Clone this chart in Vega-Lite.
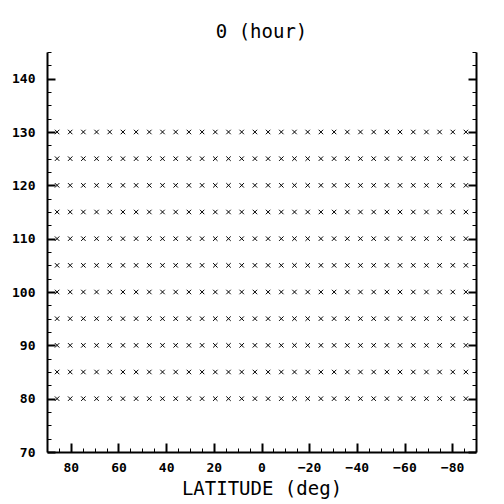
{
  "$schema": "https://vega.github.io/schema/vega-lite/v6.json",
  "autosize": "none",
  "padding": {"left": 47, "top": 52, "right": 28, "bottom": 52},
  "width": 429,
  "height": 400,
  "background": "white",
  "title": {"text": "0 (hour)", "font": "DejaVu Sans Mono", "fontSize": 19, "fontWeight": "normal", "color": "black", "offset": 10, "anchor": "middle"},
  "config": {"view": {"stroke": null}, "axis": {"grid": false, "domainColor": "black", "tickColor": "black", "labelColor": "black", "titleColor": "black", "labelFont": "DejaVu Sans Mono", "labelFontWeight": "bold", "labelFontSize": 13, "titleFont": "DejaVu Sans Mono", "titleFontWeight": "normal", "titleFontSize": 19}},
  "data": {"values": [
{"lat":85.76,"p":80},{"lat":80.27,"p":80},{"lat":74.74,"p":80},{"lat":69.21,"p":80},{"lat":63.68,"p":80},{"lat":58.14,"p":80},{"lat":52.61,"p":80},{"lat":47.07,"p":80},{"lat":41.53,"p":80},{"lat":36.0,"p":80},{"lat":30.46,"p":80},{"lat":24.92,"p":80},{"lat":19.38,"p":80},{"lat":13.84,"p":80},{"lat":8.31,"p":80},{"lat":2.77,"p":80},{"lat":-2.77,"p":80},{"lat":-8.31,"p":80},{"lat":-13.84,"p":80},{"lat":-19.38,"p":80},{"lat":-24.92,"p":80},{"lat":-30.46,"p":80},{"lat":-36.0,"p":80},{"lat":-41.53,"p":80},{"lat":-47.07,"p":80},{"lat":-52.61,"p":80},{"lat":-58.14,"p":80},{"lat":-63.68,"p":80},{"lat":-69.21,"p":80},{"lat":-74.74,"p":80},{"lat":-80.27,"p":80},{"lat":-85.76,"p":80},
{"lat":85.76,"p":85},{"lat":80.27,"p":85},{"lat":74.74,"p":85},{"lat":69.21,"p":85},{"lat":63.68,"p":85},{"lat":58.14,"p":85},{"lat":52.61,"p":85},{"lat":47.07,"p":85},{"lat":41.53,"p":85},{"lat":36.0,"p":85},{"lat":30.46,"p":85},{"lat":24.92,"p":85},{"lat":19.38,"p":85},{"lat":13.84,"p":85},{"lat":8.31,"p":85},{"lat":2.77,"p":85},{"lat":-2.77,"p":85},{"lat":-8.31,"p":85},{"lat":-13.84,"p":85},{"lat":-19.38,"p":85},{"lat":-24.92,"p":85},{"lat":-30.46,"p":85},{"lat":-36.0,"p":85},{"lat":-41.53,"p":85},{"lat":-47.07,"p":85},{"lat":-52.61,"p":85},{"lat":-58.14,"p":85},{"lat":-63.68,"p":85},{"lat":-69.21,"p":85},{"lat":-74.74,"p":85},{"lat":-80.27,"p":85},{"lat":-85.76,"p":85},
{"lat":85.76,"p":90},{"lat":80.27,"p":90},{"lat":74.74,"p":90},{"lat":69.21,"p":90},{"lat":63.68,"p":90},{"lat":58.14,"p":90},{"lat":52.61,"p":90},{"lat":47.07,"p":90},{"lat":41.53,"p":90},{"lat":36.0,"p":90},{"lat":30.46,"p":90},{"lat":24.92,"p":90},{"lat":19.38,"p":90},{"lat":13.84,"p":90},{"lat":8.31,"p":90},{"lat":2.77,"p":90},{"lat":-2.77,"p":90},{"lat":-8.31,"p":90},{"lat":-13.84,"p":90},{"lat":-19.38,"p":90},{"lat":-24.92,"p":90},{"lat":-30.46,"p":90},{"lat":-36.0,"p":90},{"lat":-41.53,"p":90},{"lat":-47.07,"p":90},{"lat":-52.61,"p":90},{"lat":-58.14,"p":90},{"lat":-63.68,"p":90},{"lat":-69.21,"p":90},{"lat":-74.74,"p":90},{"lat":-80.27,"p":90},{"lat":-85.76,"p":90},
{"lat":85.76,"p":95},{"lat":80.27,"p":95},{"lat":74.74,"p":95},{"lat":69.21,"p":95},{"lat":63.68,"p":95},{"lat":58.14,"p":95},{"lat":52.61,"p":95},{"lat":47.07,"p":95},{"lat":41.53,"p":95},{"lat":36.0,"p":95},{"lat":30.46,"p":95},{"lat":24.92,"p":95},{"lat":19.38,"p":95},{"lat":13.84,"p":95},{"lat":8.31,"p":95},{"lat":2.77,"p":95},{"lat":-2.77,"p":95},{"lat":-8.31,"p":95},{"lat":-13.84,"p":95},{"lat":-19.38,"p":95},{"lat":-24.92,"p":95},{"lat":-30.46,"p":95},{"lat":-36.0,"p":95},{"lat":-41.53,"p":95},{"lat":-47.07,"p":95},{"lat":-52.61,"p":95},{"lat":-58.14,"p":95},{"lat":-63.68,"p":95},{"lat":-69.21,"p":95},{"lat":-74.74,"p":95},{"lat":-80.27,"p":95},{"lat":-85.76,"p":95},
{"lat":85.76,"p":100},{"lat":80.27,"p":100},{"lat":74.74,"p":100},{"lat":69.21,"p":100},{"lat":63.68,"p":100},{"lat":58.14,"p":100},{"lat":52.61,"p":100},{"lat":47.07,"p":100},{"lat":41.53,"p":100},{"lat":36.0,"p":100},{"lat":30.46,"p":100},{"lat":24.92,"p":100},{"lat":19.38,"p":100},{"lat":13.84,"p":100},{"lat":8.31,"p":100},{"lat":2.77,"p":100},{"lat":-2.77,"p":100},{"lat":-8.31,"p":100},{"lat":-13.84,"p":100},{"lat":-19.38,"p":100},{"lat":-24.92,"p":100},{"lat":-30.46,"p":100},{"lat":-36.0,"p":100},{"lat":-41.53,"p":100},{"lat":-47.07,"p":100},{"lat":-52.61,"p":100},{"lat":-58.14,"p":100},{"lat":-63.68,"p":100},{"lat":-69.21,"p":100},{"lat":-74.74,"p":100},{"lat":-80.27,"p":100},{"lat":-85.76,"p":100},
{"lat":85.76,"p":105},{"lat":80.27,"p":105},{"lat":74.74,"p":105},{"lat":69.21,"p":105},{"lat":63.68,"p":105},{"lat":58.14,"p":105},{"lat":52.61,"p":105},{"lat":47.07,"p":105},{"lat":41.53,"p":105},{"lat":36.0,"p":105},{"lat":30.46,"p":105},{"lat":24.92,"p":105},{"lat":19.38,"p":105},{"lat":13.84,"p":105},{"lat":8.31,"p":105},{"lat":2.77,"p":105},{"lat":-2.77,"p":105},{"lat":-8.31,"p":105},{"lat":-13.84,"p":105},{"lat":-19.38,"p":105},{"lat":-24.92,"p":105},{"lat":-30.46,"p":105},{"lat":-36.0,"p":105},{"lat":-41.53,"p":105},{"lat":-47.07,"p":105},{"lat":-52.61,"p":105},{"lat":-58.14,"p":105},{"lat":-63.68,"p":105},{"lat":-69.21,"p":105},{"lat":-74.74,"p":105},{"lat":-80.27,"p":105},{"lat":-85.76,"p":105},
{"lat":85.76,"p":110},{"lat":80.27,"p":110},{"lat":74.74,"p":110},{"lat":69.21,"p":110},{"lat":63.68,"p":110},{"lat":58.14,"p":110},{"lat":52.61,"p":110},{"lat":47.07,"p":110},{"lat":41.53,"p":110},{"lat":36.0,"p":110},{"lat":30.46,"p":110},{"lat":24.92,"p":110},{"lat":19.38,"p":110},{"lat":13.84,"p":110},{"lat":8.31,"p":110},{"lat":2.77,"p":110},{"lat":-2.77,"p":110},{"lat":-8.31,"p":110},{"lat":-13.84,"p":110},{"lat":-19.38,"p":110},{"lat":-24.92,"p":110},{"lat":-30.46,"p":110},{"lat":-36.0,"p":110},{"lat":-41.53,"p":110},{"lat":-47.07,"p":110},{"lat":-52.61,"p":110},{"lat":-58.14,"p":110},{"lat":-63.68,"p":110},{"lat":-69.21,"p":110},{"lat":-74.74,"p":110},{"lat":-80.27,"p":110},{"lat":-85.76,"p":110},
{"lat":85.76,"p":115},{"lat":80.27,"p":115},{"lat":74.74,"p":115},{"lat":69.21,"p":115},{"lat":63.68,"p":115},{"lat":58.14,"p":115},{"lat":52.61,"p":115},{"lat":47.07,"p":115},{"lat":41.53,"p":115},{"lat":36.0,"p":115},{"lat":30.46,"p":115},{"lat":24.92,"p":115},{"lat":19.38,"p":115},{"lat":13.84,"p":115},{"lat":8.31,"p":115},{"lat":2.77,"p":115},{"lat":-2.77,"p":115},{"lat":-8.31,"p":115},{"lat":-13.84,"p":115},{"lat":-19.38,"p":115},{"lat":-24.92,"p":115},{"lat":-30.46,"p":115},{"lat":-36.0,"p":115},{"lat":-41.53,"p":115},{"lat":-47.07,"p":115},{"lat":-52.61,"p":115},{"lat":-58.14,"p":115},{"lat":-63.68,"p":115},{"lat":-69.21,"p":115},{"lat":-74.74,"p":115},{"lat":-80.27,"p":115},{"lat":-85.76,"p":115},
{"lat":85.76,"p":120},{"lat":80.27,"p":120},{"lat":74.74,"p":120},{"lat":69.21,"p":120},{"lat":63.68,"p":120},{"lat":58.14,"p":120},{"lat":52.61,"p":120},{"lat":47.07,"p":120},{"lat":41.53,"p":120},{"lat":36.0,"p":120},{"lat":30.46,"p":120},{"lat":24.92,"p":120},{"lat":19.38,"p":120},{"lat":13.84,"p":120},{"lat":8.31,"p":120},{"lat":2.77,"p":120},{"lat":-2.77,"p":120},{"lat":-8.31,"p":120},{"lat":-13.84,"p":120},{"lat":-19.38,"p":120},{"lat":-24.92,"p":120},{"lat":-30.46,"p":120},{"lat":-36.0,"p":120},{"lat":-41.53,"p":120},{"lat":-47.07,"p":120},{"lat":-52.61,"p":120},{"lat":-58.14,"p":120},{"lat":-63.68,"p":120},{"lat":-69.21,"p":120},{"lat":-74.74,"p":120},{"lat":-80.27,"p":120},{"lat":-85.76,"p":120},
{"lat":85.76,"p":125},{"lat":80.27,"p":125},{"lat":74.74,"p":125},{"lat":69.21,"p":125},{"lat":63.68,"p":125},{"lat":58.14,"p":125},{"lat":52.61,"p":125},{"lat":47.07,"p":125},{"lat":41.53,"p":125},{"lat":36.0,"p":125},{"lat":30.46,"p":125},{"lat":24.92,"p":125},{"lat":19.38,"p":125},{"lat":13.84,"p":125},{"lat":8.31,"p":125},{"lat":2.77,"p":125},{"lat":-2.77,"p":125},{"lat":-8.31,"p":125},{"lat":-13.84,"p":125},{"lat":-19.38,"p":125},{"lat":-24.92,"p":125},{"lat":-30.46,"p":125},{"lat":-36.0,"p":125},{"lat":-41.53,"p":125},{"lat":-47.07,"p":125},{"lat":-52.61,"p":125},{"lat":-58.14,"p":125},{"lat":-63.68,"p":125},{"lat":-69.21,"p":125},{"lat":-74.74,"p":125},{"lat":-80.27,"p":125},{"lat":-85.76,"p":125},
{"lat":85.76,"p":130},{"lat":80.27,"p":130},{"lat":74.74,"p":130},{"lat":69.21,"p":130},{"lat":63.68,"p":130},{"lat":58.14,"p":130},{"lat":52.61,"p":130},{"lat":47.07,"p":130},{"lat":41.53,"p":130},{"lat":36.0,"p":130},{"lat":30.46,"p":130},{"lat":24.92,"p":130},{"lat":19.38,"p":130},{"lat":13.84,"p":130},{"lat":8.31,"p":130},{"lat":2.77,"p":130},{"lat":-2.77,"p":130},{"lat":-8.31,"p":130},{"lat":-13.84,"p":130},{"lat":-19.38,"p":130},{"lat":-24.92,"p":130},{"lat":-30.46,"p":130},{"lat":-36.0,"p":130},{"lat":-41.53,"p":130},{"lat":-47.07,"p":130},{"lat":-52.61,"p":130},{"lat":-58.14,"p":130},{"lat":-63.68,"p":130},{"lat":-69.21,"p":130},{"lat":-74.74,"p":130},{"lat":-80.27,"p":130},{"lat":-85.76,"p":130}
  ]},
  "resolve": {"axis": {"x": "independent", "y": "independent"}},
  "layer": [
    {
      "mark": {"type": "point", "shape": "M-1,-1L1,1M-1,1L1,-1", "size": 20, "filled": false, "stroke": "black", "strokeWidth": 1, "opacity": 1},
      "encoding": {
        "x": {"field": "lat", "type": "quantitative", "scale": {"domain": [-90, 90], "reverse": true, "nice": false, "zero": false},
              "axis": {"orient": "bottom", "values": [80, 60, 40, 20, 0, -20, -40, -60, -80], "tickSize": -9, "tickWidth": 2, "domainWidth": 2, "labelPadding": 18, "title": "LATITUDE   (deg)", "titlePadding": 5}},
        "y": {"field": "p", "type": "quantitative", "scale": {"domain": [70, 145], "nice": false, "zero": false},
              "axis": {"orient": "left", "values": [70, 80, 90, 100, 110, 120, 130, 140], "tickSize": -8, "tickWidth": 2, "domainWidth": 2, "labelPadding": 20, "title": null}}
      }
    },
    {
      "mark": {"type": "point", "opacity": 0},
      "encoding": {
        "x": {"field": "lat", "type": "quantitative",
              "axis": {"orient": "bottom", "values": [85, 75, 70, 65, 55, 50, 45, 35, 30, 25, 15, 10, 5, -5, -10, -15, -25, -30, -35, -45, -50, -55, -65, -70, -75, -85], "tickSize": -4, "tickWidth": 1, "domain": false, "labels": false, "title": null}},
        "y": {"field": "p", "type": "quantitative",
              "axis": {"orient": "left", "values": [72.5, 75, 77.5, 82.5, 85, 87.5, 92.5, 95, 97.5, 102.5, 105, 107.5, 112.5, 115, 117.5, 122.5, 125, 127.5, 132.5, 135, 137.5, 142.5, 145], "tickSize": -4, "tickWidth": 1, "domain": false, "labels": false, "title": null}}
      }
    },
    {
      "mark": {"type": "point", "opacity": 0},
      "encoding": {
        "x": {"field": "lat", "type": "quantitative", "axis": null},
        "y": {"field": "p", "type": "quantitative",
              "axis": {"orient": "right", "values": [70, 80, 90, 100, 110, 120, 130, 140], "tickSize": -8, "tickWidth": 2, "domainWidth": 2, "labels": false, "title": null}}
      }
    },
    {
      "mark": {"type": "point", "opacity": 0},
      "encoding": {
        "x": {"field": "lat", "type": "quantitative", "axis": null},
        "y": {"field": "p", "type": "quantitative",
              "axis": {"orient": "right", "values": [72.5, 75, 77.5, 82.5, 85, 87.5, 92.5, 95, 97.5, 102.5, 105, 107.5, 112.5, 115, 117.5, 122.5, 125, 127.5, 132.5, 135, 137.5, 142.5, 145], "tickSize": -4, "tickWidth": 1, "domain": false, "labels": false, "title": null}}
      }
    }
  ]
}
